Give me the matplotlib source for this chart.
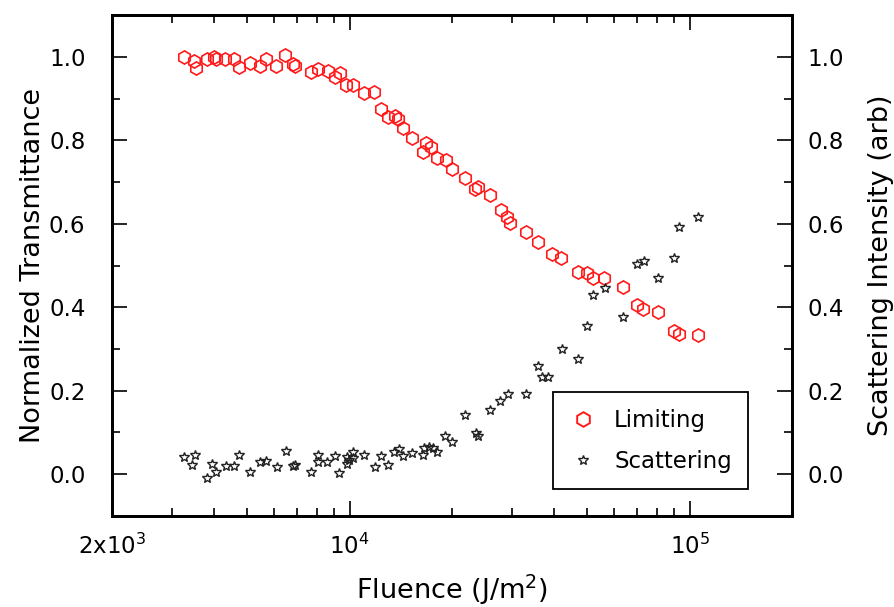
import matplotlib
matplotlib.use("Agg")
import matplotlib.pyplot as plt
from matplotlib.ticker import FixedLocator, FixedFormatter, LogLocator, MultipleLocator, NullFormatter
from matplotlib.lines import Line2D

plt.rcParams['font.family'] = ['DejaVu Sans']
plt.rcParams['mathtext.default'] = 'regular'

# Optical limiting: normalized transmittance vs. fluence
limit_fluence = [3270, 3480, 3525, 3820, 3980, 4040, 4290, 4560, 4720, 5080,
                 5440, 5660, 6060, 6440, 6800, 6890, 7680, 8100, 8620, 9030,
                 9350, 9730, 10200, 11000, 11760, 12340, 12930, 13560, 13840, 14320,
                 15220, 16400, 16730, 17310, 18030, 19160, 19950, 21790, 23310, 23790,
                 25800, 27800, 28960, 29550, 32940, 35730, 39280, 41740, 46840, 49780,
                 51840, 55850, 63530, 69860, 72750, 80520, 89740, 92830, 105560]
limit_trans = [1.000, 0.990, 0.974, 0.995, 1.000, 0.995, 0.995, 0.995, 0.976, 0.986,
               0.978, 0.995, 0.978, 1.005, 0.983, 0.978, 0.964, 0.971, 0.966, 0.952,
               0.962, 0.933, 0.933, 0.914, 0.916, 0.875, 0.856, 0.859, 0.851, 0.830,
               0.806, 0.772, 0.794, 0.784, 0.758, 0.753, 0.731, 0.710, 0.683, 0.688,
               0.669, 0.633, 0.616, 0.602, 0.580, 0.556, 0.528, 0.518, 0.484, 0.482,
               0.470, 0.470, 0.448, 0.405, 0.396, 0.388, 0.343, 0.336, 0.333]

# Scattered light intensity vs. fluence
scat_fluence = [3270, 3450, 3500, 3820, 3950, 4040, 4320, 4560, 4720, 5080,
                5440, 5660, 6100, 6480, 6800, 6890, 7680, 8100, 8100, 8560,
                9030, 9280, 9800, 9800, 9930, 10200, 10200, 11000, 11850, 12340,
                12930, 13470, 13930, 14320, 15220, 16400, 16510, 17080, 17550, 18030,
                19030, 19950, 21790, 23480, 23790, 25800, 27620, 29160, 32940, 35730,
                36710, 38230, 42030, 46840, 49780, 51840, 56230, 63530, 69860, 73250,
                80520, 89740, 92830, 105560]
scat_int = [0.041, 0.022, 0.046, -0.010, 0.024, 0.005, 0.019, 0.019, 0.046, 0.005,
            0.029, 0.031, 0.017, 0.055, 0.019, 0.022, 0.005, 0.046, 0.029, 0.029,
            0.043, 0.002, 0.041, 0.024, 0.034, 0.053, 0.038, 0.046, 0.017, 0.043,
            0.022, 0.053, 0.060, 0.043, 0.050, 0.046, 0.062, 0.065, 0.062, 0.053,
            0.091, 0.077, 0.141, 0.098, 0.091, 0.153, 0.175, 0.192, 0.192, 0.259,
            0.233, 0.233, 0.300, 0.276, 0.355, 0.429, 0.446, 0.376, 0.504, 0.511,
            0.470, 0.518, 0.592, 0.616]

x_ticks = [2e3, 1e4, 1e5]
x_tick_labels = [r'2x$10^3$', r'$10^4$', r'$10^5$']

fig = plt.figure(figsize=(8.95, 6.07), dpi=100)
ax = fig.add_axes([0.125, 0.150, 0.760, 0.825])
ax2 = ax.twinx()

ax.plot(limit_fluence, limit_trans, linestyle='none', marker='h', markersize=9.5,
        markerfacecolor='none', markeredgecolor='#ff1a1a', markeredgewidth=1.2)
ax2.plot(scat_fluence, scat_int, linestyle='none', marker='*', markersize=7,
         markerfacecolor='none', markeredgecolor='#222222', markeredgewidth=1.0)

ax.set_xscale('log')
ax.set_xlim(2e3, 2e5)
ax.set_ylim(-0.1, 1.1)
ax2.set_ylim(-0.1, 1.1)

ax.xaxis.set_major_locator(FixedLocator(x_ticks))
ax.xaxis.set_major_formatter(FixedFormatter(x_tick_labels))
ax.xaxis.set_minor_locator(LogLocator(base=10, subs=range(2, 10), numticks=20))
ax.xaxis.set_minor_formatter(NullFormatter())

for a in (ax, ax2):
    a.yaxis.set_major_locator(MultipleLocator(0.2))
    a.yaxis.set_minor_locator(MultipleLocator(0.1))
    a.yaxis.set_major_formatter(plt.FormatStrFormatter('%.1f'))
    for s in a.spines.values():
        s.set_linewidth(2.0)

ax.tick_params(which='both', direction='in', top=True, bottom=True, left=True, right=False,
               labelsize=16.5)
ax.tick_params(which='major', length=11, width=1.2)
ax.tick_params(which='minor', length=6, width=1.2)
ax.tick_params(axis='y', pad=19)
ax.tick_params(axis='x', pad=13)
ax2.tick_params(which='both', direction='in', right=True, left=False, labelsize=16.5)
ax2.tick_params(which='major', length=11, width=1.2, pad=11)
ax2.tick_params(which='minor', length=6, width=1.2)

ax.set_xlabel(r'Fluence (J/m$^2$)', fontsize=19.5)
ax.set_ylabel('Normalized Transmittance', fontsize=19.5)
ax2.set_ylabel('Scattering Intensity (arb)', fontsize=19.5)
ax.xaxis.set_label_coords(0.5, -0.112)
ax.yaxis.set_label_coords(-0.097, 0.5)
ax2.yaxis.set_label_coords(1.112, 0.5)

handles = [
    Line2D([], [], linestyle='none', marker='h', markersize=10.5, markerfacecolor='none',
           markeredgecolor='#ff1a1a', markeredgewidth=1.4),
    Line2D([], [], linestyle='none', marker='*', markersize=7.5, markerfacecolor='none',
           markeredgecolor='#222222', markeredgewidth=1.0),
]
leg = ax2.legend(handles, ['Limiting', 'Scattering'], loc='lower right',
                 bbox_to_anchor=(0.935, 0.054), borderaxespad=0, fontsize=16.5,
                 frameon=True, fancybox=False, framealpha=1, edgecolor='black',
                 handlelength=1.2, handletextpad=0.75, borderpad=0.7, labelspacing=0.8)
leg.get_frame().set_linewidth(1.3)

fig.savefig('out.png', dpi=100)
